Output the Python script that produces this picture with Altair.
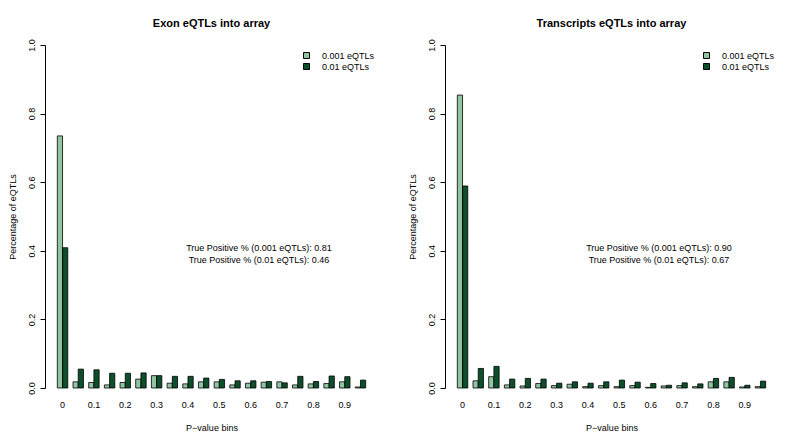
import altair as alt
import pandas as pd

bins = ["0", "0.05", "0.1", "0.15", "0.2", "0.25", "0.3", "0.35", "0.4", "0.45",
        "0.5", "0.55", "0.6", "0.65", "0.7", "0.75", "0.8", "0.85", "0.9", "0.95"]
tick_labels = ["0", "0.1", "0.2", "0.3", "0.4", "0.5", "0.6", "0.7", "0.8", "0.9"]
series = ["0.001 eQTLs", "0.01 eQTLs"]
colors = ["#91C4A1", "#0D4F2B"]

exon_001 = [0.735, 0.018, 0.016, 0.009, 0.016, 0.026, 0.036, 0.014, 0.012, 0.018,
            0.018, 0.009, 0.014, 0.017, 0.018, 0.009, 0.012, 0.013, 0.018, 0.003]
exon_01 = [0.409, 0.055, 0.053, 0.043, 0.043, 0.044, 0.036, 0.034, 0.034, 0.029,
           0.025, 0.021, 0.021, 0.019, 0.015, 0.034, 0.019, 0.035, 0.033, 0.023]
tx_001 = [0.854, 0.021, 0.033, 0.009, 0.006, 0.013, 0.007, 0.011, 0.004, 0.007,
          0.004, 0.007, 0.002, 0.006, 0.007, 0.004, 0.018, 0.018, 0.003, 0.004]
tx_01 = [0.589, 0.057, 0.063, 0.026, 0.028, 0.026, 0.014, 0.018, 0.014, 0.018,
         0.023, 0.017, 0.013, 0.008, 0.015, 0.012, 0.028, 0.031, 0.008, 0.020]

exon_notes = ["True Positive % (0.001 eQTLs): 0.81", "True Positive % (0.01 eQTLs): 0.46"]
tx_notes = ["True Positive % (0.001 eQTLs): 0.90", "True Positive % (0.01 eQTLs): 0.67"]
note_y = [0.407, 0.374]

FONT = "Liberation Sans"


def panel(title, v1, v2, notes):
    df = pd.DataFrame({
        "bin": bins * 2,
        "series": [series[0]] * len(bins) + [series[1]] * len(bins),
        "value": v1 + v2,
    })
    bars = alt.Chart(df).mark_bar(stroke="black", strokeWidth=0.8).encode(
        x=alt.X("bin:N", sort=bins,
                scale=alt.Scale(paddingInner=1 / 3, paddingOuter=0.786),
                axis=alt.Axis(values=tick_labels, title="P\u2212value bins", domain=False,
                              ticks=False, tickSize=0, labelPadding=12, labelAngle=0,
                              titlePadding=14, labelOverlap=False)),
        xOffset=alt.XOffset("series:N", sort=series,
                            scale=alt.Scale(paddingInner=0, paddingOuter=0)),
        y=alt.Y("value:Q", scale=alt.Scale(domain=[0, 1], nice=False, zero=True),
                axis=alt.Axis(values=[0, 0.2, 0.4, 0.6, 0.8, 1.0], format=".1f",
                              title="Percentage of eQTLs", grid=False, labelAngle=270,
                              labelAlign="center", labelBaseline="bottom", tickSize=5,
                              labelPadding=4, titlePadding=10, labelOverlap=False,
                              domainColor="black", tickColor="black")),
        color=alt.Color("series:N", sort=series,
                        scale=alt.Scale(domain=series, range=colors),
                        legend=alt.Legend(title=None, orient="none", legendX=257, legendY=6,
                                          symbolType="square", symbolSize=36,
                                          symbolStrokeColor="black", symbolStrokeWidth=1,
                                          labelFontSize=9, labelOffset=11, padding=0,
                                          rowPadding=0, labelFont=FONT, labelColor="black")),
    )
    notes_df = pd.DataFrame({"text": notes, "y": note_y})
    text = alt.Chart(notes_df).mark_text(fontSize=9, align="center", baseline="middle",
                                         font=FONT, color="black").encode(
        x=alt.value(214),
        y=alt.Y("y:Q"),
        text="text:N",
    )
    return alt.layer(bars, text).properties(
        width=333, height=343,
        title=alt.TitleParams(title, fontSize=11, fontWeight="bold", offset=10,
                              font=FONT, color="black"),
    )


chart = alt.hconcat(
    panel("Exon eQTLs into array", exon_001, exon_01, exon_notes),
    panel("Transcripts eQTLs into array", tx_001, tx_01, tx_notes),
    spacing=30,
).resolve_legend(color="independent").properties(
    padding={"left": 0, "top": 9, "right": 5, "bottom": 0}
).configure_view(stroke=None).configure_axis(
    labelFont=FONT, titleFont=FONT, labelFontSize=9, titleFontSize=9,
    titleFontWeight="normal", labelColor="black", titleColor="black"
)

chart.save("out.html", embed_options={"renderer": "svg", "actions": False})
